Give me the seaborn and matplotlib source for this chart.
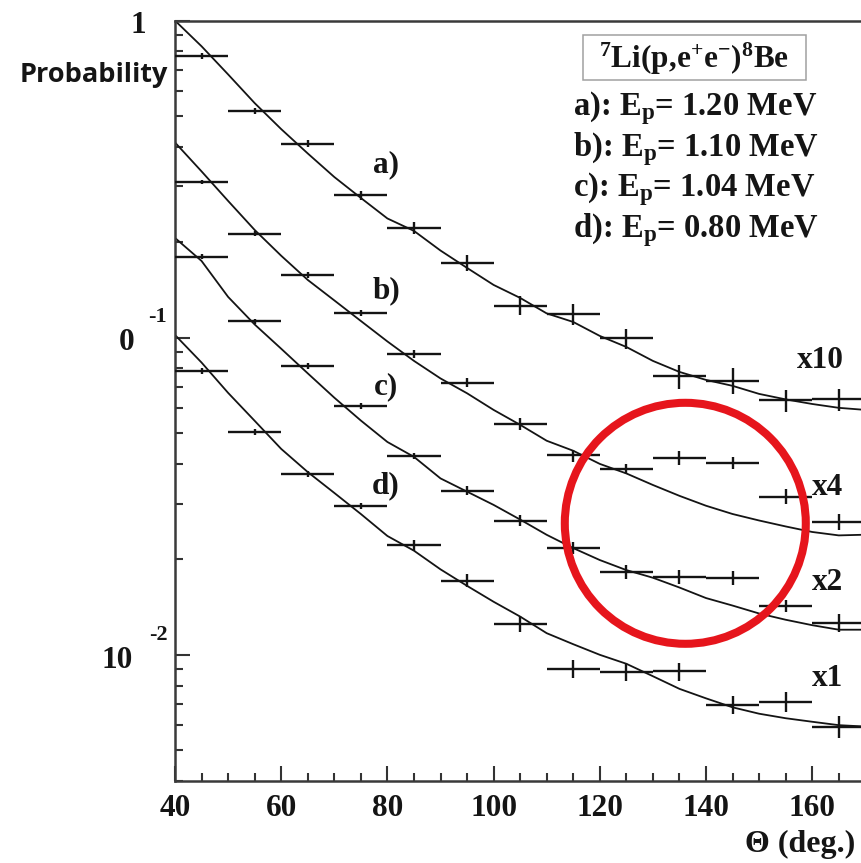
import numpy as np
import pandas as pd
import matplotlib
matplotlib.use("Agg")
import matplotlib.pyplot as plt
from matplotlib.patches import Ellipse, Rectangle
from matplotlib.ticker import MultipleLocator, LogLocator, NullFormatter
import seaborn as sns

# ---------------------------------------------------------------------------
# 7Li(p,e+e-)8Be : e+e- opening-angle distributions at four beam energies
# ---------------------------------------------------------------------------
series_tags = ["a)", "b)", "c)", "d)"]
beam_energy = ["1.20", "1.10", "1.04", "0.80"]
scale_factor = [10, 4, 2, 1]
scale_text = ["x10", "x4", "x2", "x1"]

# angular bins (deg) and half bin width
theta_bins = [45, 55, 65, 75, 85, 95, 105, 115, 125, 135, 145, 155, 165]
theta_halfwidth = 5.0

# measured probabilities (unscaled) and their errors
prob_a = [0.07733, 0.05176, 0.04091, 0.02813, 0.02219, 0.01721, 0.01263,
          0.01186, 0.00996, 0.00756, 0.00732, 0.00634, 0.00639]
err_a = [0.0017, 0.00114, 0.00102, 0.00093, 0.00098, 0.0010, 0.00087,
         0.00087, 0.00073, 0.00066, 0.00069, 0.00051, 0.00051]
prob_b = [0.07763, 0.05313, 0.03935, 0.0300, 0.02228, 0.01805, 0.01335,
          0.01063, 0.00965, 0.01045, 0.01005, 0.00788, 0.00658]
err_b = [0.00116, 0.00096, 0.00087, 0.00066, 0.00065, 0.0006, 0.00059,
         0.00047, 0.00035, 0.00051, 0.00044, 0.00043, 0.00038]
prob_c = [0.0899, 0.05635, 0.04065, 0.0305, 0.0212, 0.01645, 0.01325,
          0.01085, 0.00915, 0.0088, 0.00875, 0.00712, 0.0063]
err_c = [0.0016, 0.0010, 0.0009, 0.00067, 0.00047, 0.00054, 0.00053,
         0.00048, 0.00047, 0.00043, 0.00043, 0.00031, 0.00041]
prob_d = [0.0786, 0.0506, 0.0372, 0.0295, 0.0222, 0.01715, 0.01255,
          0.00903, 0.00882, 0.00886, 0.00696, 0.0071, 0.00594]
err_d = [0.0017, 0.0011, 0.00082, 0.00065, 0.00089, 0.00081, 0.00073,
         0.00059, 0.00057, 0.00058, 0.00045, 0.00052, 0.00048]

# simulated IPC curves (unscaled)
theta_curve = [40, 45, 50, 55, 60, 65, 70, 75, 80, 85, 90, 95, 100, 105,
               110, 115, 120, 125, 130, 135, 140, 145, 150, 155, 160, 165, 170]
curve_a = [0.1000, 0.08299, 0.06766, 0.05494, 0.04548, 0.03811, 0.03212,
           0.02759, 0.02377, 0.02172, 0.01883, 0.01660, 0.01467, 0.01335,
           0.01193, 0.01121, 0.01013, 0.00935, 0.00845, 0.00780, 0.00736,
           0.00705, 0.00665, 0.00639, 0.00618, 0.00601, 0.00592]
curve_b = [0.10318, 0.08365, 0.0675, 0.05468, 0.04533, 0.03803, 0.03278,
           0.02823, 0.02433, 0.02113, 0.0186, 0.0167, 0.0148, 0.01328,
           0.01183, 0.0110, 0.0100, 0.00933, 0.00858, 0.00793, 0.00738,
           0.00695, 0.00663, 0.00635, 0.0061, 0.00595, 0.00598]
curve_c = [0.1032, 0.0873, 0.06725, 0.05505, 0.04615, 0.0386, 0.03235,
           0.0274, 0.02345, 0.02105, 0.0180, 0.01635, 0.01485, 0.01335,
           0.01195, 0.01085, 0.00995, 0.00925, 0.00875, 0.00815, 0.00755,
           0.00715, 0.00675, 0.00645, 0.0062, 0.0060, 0.0060]
curve_d = [0.1020, 0.0835, 0.0670, 0.0547, 0.0446, 0.0377, 0.0324, 0.0278,
           0.0237, 0.0213, 0.0186, 0.0165, 0.0147, 0.0132, 0.0117, 0.0108,
           0.0100, 0.00937, 0.00856, 0.00781, 0.00729, 0.00683, 0.00652,
           0.00631, 0.00615, 0.00600, 0.00594]

measured = [(prob_a, err_a), (prob_b, err_b), (prob_c, err_c), (prob_d, err_d)]
curves = [curve_a, curve_b, curve_c, curve_d]

# ---------------------------------------------------------------------------
W, H = 861, 863
sns.set_theme(style="ticks")
plt.rcParams["font.family"] = ["Liberation Serif", "DejaVu Serif"]
plt.rcParams["font.weight"] = "bold"
plt.rcParams["mathtext.fontset"] = "custom"
plt.rcParams["mathtext.rm"] = "Liberation Serif:bold"
plt.rcParams["mathtext.it"] = "Liberation Serif:bold"
plt.rcParams["mathtext.bf"] = "Liberation Serif:bold"
plt.rcParams["text.color"] = "#151515"


def fx(px):
    return px / W


def fy(py):
    return 1 - py / H


fig = plt.figure(figsize=(W / 100, H / 100), dpi=100)
fig.patch.set_facecolor("white")
ax = fig.add_axes([fx(175), fy(781), (W - 175) / W, (781 - 20.6) / H])
ax.set_facecolor("white")

ink = "#141414"
curve_rows = []
for tag, k, cv in zip(series_tags, scale_factor, curves):
    for t, v in zip(theta_curve, cv):
        curve_rows.append({"theta": t, "prob": v * k, "series": tag})
curve_df = pd.DataFrame(curve_rows)
sns.lineplot(data=curve_df, x="theta", y="prob", units="series",
             estimator=None, color=ink, lw=1.3, ax=ax, legend=False)

for (p, e), k in zip(measured, scale_factor):
    ax.errorbar(theta_bins, np.array(p) * k, xerr=theta_halfwidth,
                yerr=np.array(e) * k, fmt="none", ecolor=ink,
                elinewidth=1.7, capsize=0, zorder=3)

ax.set_yscale("log")
ax.set_ylim(0.004, 1.0)
ax.set_xlim(40, 40 + (W - 175) / 5.31)
ax.set_xlabel("")
ax.set_ylabel("")

ax.xaxis.set_major_locator(MultipleLocator(20))
ax.xaxis.set_minor_locator(MultipleLocator(5))
ax.yaxis.set_major_locator(LogLocator(base=10))
ax.yaxis.set_minor_locator(LogLocator(base=10, subs=np.arange(2, 10)))
ax.yaxis.set_major_formatter(NullFormatter())
ax.yaxis.set_minor_formatter(NullFormatter())

ax.tick_params(axis="both", which="major", direction="in", length=10.5,
               width=1.5, color="#333333", top=False, right=False)
ax.tick_params(axis="both", which="minor", direction="in", length=5.5,
               width=1.5, color="#333333", top=False, right=False)
ax.tick_params(axis="x", labelsize=22.5, pad=9, labelcolor=ink)
ax.tick_params(axis="y", labelleft=False)

for side in ["left", "bottom", "top"]:
    ax.spines[side].set_color("#3a3a3a")
    ax.spines[side].set_linewidth(1.8)
ax.spines["right"].set_visible(False)

# y-axis decade labels and axis title
fig.text(fx(138), fy(33.3), "1", ha="center", va="baseline", fontsize=22.5)
fig.text(fx(126.5), fy(350), "0", ha="center", va="baseline", fontsize=22.5)
fig.text(fx(157.5), fy(321.7), "-1", ha="center", va="baseline", fontsize=16)
fig.text(fx(117.5), fy(668), "10", ha="center", va="baseline", fontsize=22.5)
fig.text(fx(158), fy(640), "-2", ha="center", va="baseline", fontsize=16)
fig.text(fx(168), fy(81.7), "Probability", ha="right", va="baseline",
         fontsize=19.5, family=["Open Sans", "DejaVu Sans"], weight="bold")
fig.text(fx(745), fy(852), "\u0398 (deg.)", ha="left", va="baseline",
         fontsize=23)

# reaction box and beam energies
fig.add_artist(Rectangle((fx(583), fy(80)), (806 - 583) / W, 45 / H,
                         transform=fig.transFigure, fill=False,
                         ec="#a0a0a0", lw=1.1))
fig.text(fx(694.5), fy(68), r"$^{7}$Li(p,e$^{+}$e$^{-}$)$^{8}$Be",
         ha="center", va="baseline", fontsize=22.5)
for tag, en, bl in zip(series_tags, beam_energy, [115, 156, 196, 237]):
    fig.text(fx(573), fy(bl), tag + r": E$_\mathrm{p}$= " + en + " MeV",
             ha="left", va="baseline", fontsize=23.5)

# curve tags and scale factors
for tag, bl in zip(series_tags, [172, 298, 394, 493]):
    fig.text(fx(386), fy(bl), tag, ha="center", va="baseline", fontsize=22.5)
for st, xl, bl in zip(scale_text, [797, 812, 812, 812], [368, 495, 590, 686]):
    fig.text(fx(xl), fy(bl), st, ha="left", va="baseline", fontsize=22.5)

# highlight ring
fig.add_artist(Ellipse((fx(685.3), fy(523.3)), 241 / W, 241 / H,
                       transform=fig.transFigure, fill=False,
                       ec="#e6151c", lw=5.8, zorder=10))

fig.savefig("out.png", dpi=100, facecolor="white")
